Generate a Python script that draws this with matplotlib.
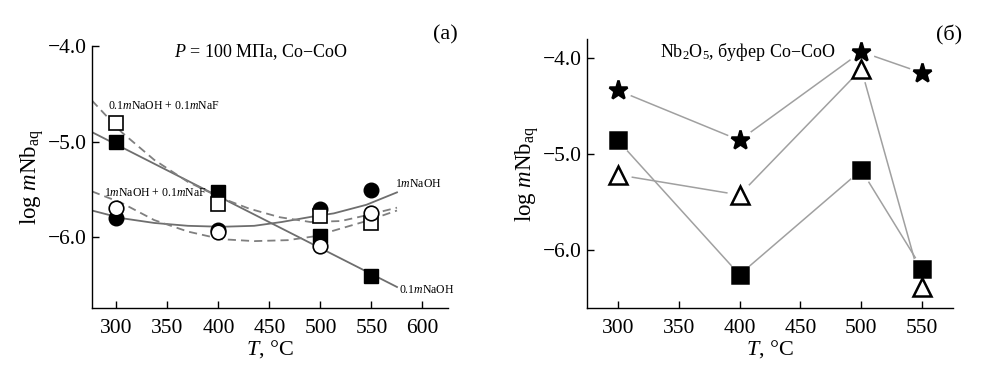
import matplotlib
matplotlib.use('Agg')
import matplotlib.pyplot as plt
import numpy as np

plt.rcParams['font.family'] = ['Liberation Serif', 'DejaVu Serif']
plt.rcParams['mathtext.fontset'] = 'custom'
plt.rcParams['mathtext.rm'] = 'Liberation Serif'
plt.rcParams['mathtext.it'] = 'Liberation Serif:italic'

# ***** DATA: panel (a) *****
temps_a = [300, 400, 500, 550]
naoh01 = [-5.00, -5.53, -5.99, -6.40]          # filled squares
naoh01_naf = [-4.80, -5.65, -5.78, -5.85]      # open squares
naoh1 = [-5.80, -5.92, -5.70, -5.51]           # filled circles
naoh1_naf = [-5.69, -5.94, -6.09, -5.75]       # open circles

# trend lines
fit_naoh01_t = [276, 575]
fit_naoh01_v = [-4.90, -6.52]
fit_naoh1_t = [276, 305, 337, 370, 403, 435, 462, 494, 513, 545, 575]
fit_naoh1_v = [-5.72, -5.80, -5.85, -5.88, -5.89, -5.88, -5.84, -5.78, -5.75, -5.66, -5.53]
fit_naoh01_naf_t = [276, 305, 337, 370, 403, 430, 460, 490, 520, 545, 575]
fit_naoh01_naf_v = [-4.57, -4.90, -5.19, -5.42, -5.59, -5.70, -5.79, -5.84, -5.83, -5.77, -5.69]
fit_naoh1_naf_t = [276, 305, 337, 370, 403, 435, 468, 494, 513, 545, 575]
fit_naoh1_naf_v = [-5.52, -5.64, -5.82, -5.94, -6.02, -6.04, -6.03, -5.99, -5.93, -5.83, -5.72]

# ***** DATA: panel (б) *****
temps_b = [300, 400, 500, 550]
stars_b = [-4.34, -4.86, -3.94, -4.16]
squares_b = [-4.86, -6.26, -5.17, -6.20]
triangles_b = [-5.22, -5.43, -4.12, -6.39]

fig = plt.figure(figsize=(9.85, 3.72), dpi=100)
ax1 = fig.add_axes([0.0934, 0.172, 0.3614, 0.704])
ax2 = fig.add_axes([0.5962, 0.1712, 0.371, 0.723])

def style_axes(ax):
    for s in ['top', 'right']:
        ax.spines[s].set_visible(False)
    for s in ['left', 'bottom']:
        ax.spines[s].set_linewidth(1.0)
    ax.tick_params(direction='in', length=5, width=1.0, labelsize=15.5)
    ax.tick_params(axis='x', pad=8)
    ax.tick_params(axis='y', pad=4)
    ax.set_xlabel('$T$, °C', fontsize=16, labelpad=0)
    ax.set_ylabel('log $m$Nb$_{\\mathrm{aq}}$', fontsize=16.5, labelpad=1)

# ***** PANEL (a) *****
grey = '#6e6e6e'
dash = (0, (4.5, 2.8))
ax1.plot(fit_naoh01_t, fit_naoh01_v, color=grey, lw=1.3, zorder=1)
ax1.plot(fit_naoh1_t, fit_naoh1_v, color=grey, lw=1.3, zorder=1)
ax1.plot(fit_naoh01_naf_t, fit_naoh01_naf_v, color='#7f7f7f', lw=1.3, ls=dash, zorder=1)
ax1.plot(fit_naoh1_naf_t, fit_naoh1_naf_v, color='#7f7f7f', lw=1.3, ls=dash, zorder=1)

ax1.plot(temps_a, naoh1, 'o', ms=10.5, color='black', zorder=3)
ax1.plot(temps_a, naoh01, 's', ms=10, color='black', zorder=3)
ax1.plot(temps_a, naoh01_naf, 's', ms=10, mfc='white', mec='black', mew=1.2, zorder=4)
ax1.plot(temps_a, naoh1_naf, 'o', ms=10.5, mfc='white', mec='black', mew=1.2, zorder=4)

ax1.set_xlim(276, 625)
ax1.set_ylim(-6.74, -4.0)
ax1.set_xticks([300, 350, 400, 450, 500, 550, 600])
ax1.set_yticks([-4.0, -5.0, -6.0])
ax1.set_yticklabels(['\u22124.0', '\u22125.0', '\u22126.0'])
style_axes(ax1)

ax1.text(442, -4.06, '$P$ = 100 МПа, Co\u2212CoO', fontsize=13, ha='center', va='center')
ax1.text(292, -4.63, '0.1$m$NaOH + 0.1$m$NaF', fontsize=8.5, ha='left', va='center')
ax1.text(288, -5.54, '1$m$NaOH + 0.1$m$NaF', fontsize=8.5, ha='left', va='center')
ax1.text(573, -5.44, '1$m$NaOH', fontsize=8.5, ha='left', va='center')
ax1.text(577, -6.55, '0.1$m$NaOH', fontsize=8.5, ha='left', va='center')
fig.text(445 / 985, 1 - 35 / 372, '(а)', fontsize=16, ha='center', va='center')

# ***** PANEL (б) *****
line_grey = '#a0a0a0'
for vals in [stars_b, squares_b, triangles_b]:
    ax2.plot(temps_b, vals, color=line_grey, lw=1.1, zorder=1)

series_b = [
    (stars_b, '*', 14, 'black'),
    (triangles_b, '^', 12.5, 'white'),
    (squares_b, 's', 11.5, 'black'),
]
# white halos leave a gap between the lines and the marks
for vals, mk, ms, fc in series_b:
    ax2.plot(temps_b, vals, 'o', ms=18, color='white', zorder=2)
z = 3
for vals, mk, ms, fc in series_b:
    ax2.plot(temps_b, vals, mk, ms=ms, mfc=fc, mec='black', mew=1.8, zorder=z)
    z += 1

ax2.set_xlim(275, 575)
ax2.set_ylim(-6.61, -3.81)
ax2.set_xticks([300, 350, 400, 450, 500, 550])
ax2.set_yticks([-4.0, -5.0, -6.0])
ax2.set_yticklabels(['\u22124.0', '\u22125.0', '\u22126.0'])
style_axes(ax2)

ax2.text(407, -3.94, 'Nb$_2$O$_5$, буфер Co\u2212CoO', fontsize=13, ha='center', va='center')
fig.text(949 / 985, 1 - 35 / 372, '(б)', fontsize=16, ha='center', va='center')

plt.savefig('out.png', dpi=100)
